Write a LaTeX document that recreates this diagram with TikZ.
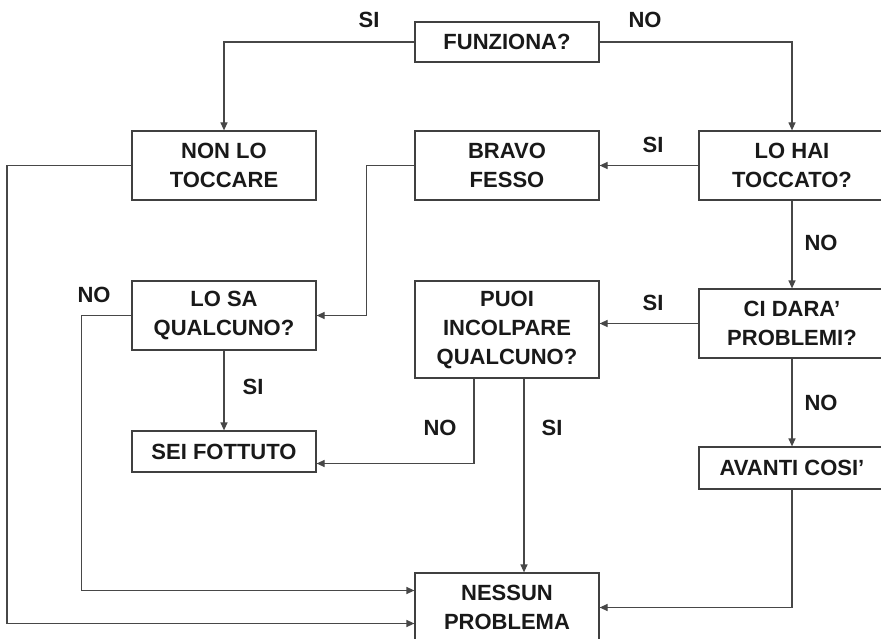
\documentclass[tikz,border=0pt]{standalone}
\usepackage{fontspec}
\setmainfont{Liberation Sans}
\usetikzlibrary{arrows.meta,positioning,calc}

\begin{document}
\begin{tikzpicture}[x=1pt, y=-1pt,
    box/.style={draw=black!75, line width=1.2pt, fill=white, align=center,
        inner sep=0pt, minimum width=184pt, minimum height=69pt,
        text=black!90, font=\fontsize{22}{29}\selectfont\bfseries},
    link/.style={draw=black!72, line width=1.2pt},
    arr/.style={link, -{Triangle[length=8pt,width=7pt]}},
    lbl/.style={text=black!90, font=\fontsize{22}{29}\selectfont\bfseries}]
    \clip (0,0) rectangle (881,639);

    % Boxes
    \node[box, minimum height=40pt] (fun) at (507,42) {FUNZIONA?};
    \node[box] (nont) at (224,165.5) {NON LO\\TOCCARE};
    \node[box] (bravo) at (507,165.5) {BRAVO\\FESSO};
    \node[box, minimum width=186pt] (lohai) at (792,165.5) {LO HAI\\TOCCATO?};
    \node[box] (losa) at (224,315.5) {LO SA\\QUALCUNO?};
    \node[box, minimum height=97pt] (puoi) at (507,329.5) {PUOI\\INCOLPARE\\QUALCUNO?};
    \node[box, minimum width=186pt] (cidara) at (792,323.5) {CI DARA’\\PROBLEMI?};
    \node[box, minimum height=41pt] (sei) at (224,451.5) {SEI FOTTUTO};
    \node[box, minimum width=186pt, minimum height=42pt] (avanti) at (792,468) {AVANTI COSI’};
    \node[box] (nessun) at (507,607.5) {NESSUN\\PROBLEMA};

    % Free ends
    \coordinate (farleft) at (7,0);
    \coordinate (nesin1) at ([yshift=17]nessun.west);
    \coordinate (nesin2) at ([yshift=-16]nessun.west);
    \coordinate (seiin) at ([yshift=-12]sei.east);

    % Connectors
    \draw[arr] (fun.west) -| (nont.north);
    \draw[arr] (fun.east) -| (lohai.north);
    \draw[arr] (lohai.west) -- (bravo.east);
    \draw[arr] (lohai.south) -- (cidara.north);
    \draw[arr] (cidara.west) -- (cidara.west -| puoi.east);
    \draw[arr] (cidara.south) -- (avanti.north);
    \draw[arr] (avanti.south) |- (nessun.east);
    \draw[arr] (bravo.west) -- ++(-48,0) |- (losa.east);
    \draw[arr] (losa.south) -- (sei.north);
    \draw[arr] (losa.west) -- ++(-50,0) |- (nesin1);
    \draw[arr] (nont.west) -| (farleft |- nesin2) -- (nesin2);
    \draw[arr] ([xshift=-33]puoi.south) |- (seiin);
    \draw[arr] ([xshift=17]puoi.south) -- ([xshift=17]puoi.south |- nessun.north);

    % Labels
    \node[lbl] (lsi1) at (369,20) {SI};
    \node[lbl] (lno1) at (645,20) {NO};
    \node[lbl] (lsi2) at (653,145) {SI};
    \node[lbl] (lno2) at (821,243) {NO};
    \node[lbl] (lsi3) at (653,303) {SI};
    \node[lbl] (lno3) at (821,403) {NO};
    \node[lbl] (lno4) at (94,295) {NO};
    \node[lbl] (lsi4) at (253,387) {SI};
    \node[lbl] (lno5) at (440,428) {NO};
    \node[lbl] (lsi5) at (552,428) {SI};
\end{tikzpicture}
\end{document}
